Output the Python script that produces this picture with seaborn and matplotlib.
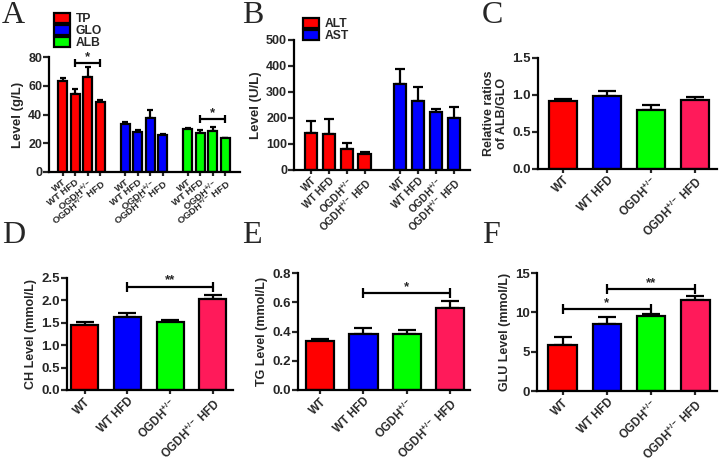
import numpy as np
import pandas as pd
import matplotlib
matplotlib.use("Agg")
import matplotlib.pyplot as plt
from matplotlib.patches import Patch
import seaborn as sns

# ---------------- data ----------------
conditions = ["WT", "WT HFD", "OGDH+/-", "OGDH+/- HFD"]
cond_labels = ["WT", "WT HFD", "OGDH$^{+/-}$", "OGDH$^{+/-}$ HFD"]

# Panel A: serum proteins (g/L)
a_groups = ["TP", "GLO", "ALB"]
a_tp = [63.2, 54.4, 66.0, 48.4]
a_tp_err = [2.0, 3.0, 7.0, 1.4]
a_glo = [33.5, 27.8, 37.3, 25.7]
a_glo_err = [1.0, 1.4, 5.5, 0.7]
a_alb = [30.1, 27.1, 28.7, 23.4]
a_alb_err = [0.5, 2.0, 2.3, 0.5]
a_ticks = [0, 20, 40, 60, 80]

# Panel B: enzymes (U/L)
b_groups = ["ALT", "AST"]
b_alt = [141, 137, 80, 63]
b_alt_err = [49, 58, 25, 7]
b_ast = [330, 267, 222, 199]
b_ast_err = [58, 51, 14, 43]
b_ticks = [0, 100, 200, 300, 400, 500]

# Panels C-F
c_vals = [0.918, 0.986, 0.79, 0.93]
c_err = [0.03, 0.06, 0.07, 0.04]
c_ticks = [0.0, 0.5, 1.0, 1.5]

d_vals = [1.46, 1.64, 1.52, 2.04]
d_err = [0.06, 0.07, 0.05, 0.09]
d_ticks = [0.0, 0.5, 1.0, 1.5, 2.0, 2.5]

e_vals = [0.334, 0.386, 0.382, 0.558]
e_err = [0.018, 0.037, 0.03, 0.052]
e_ticks = [0.0, 0.2, 0.4, 0.6, 0.8]

f_vals = [5.85, 8.55, 9.5, 11.55]
f_err = [1.0, 0.85, 0.28, 0.5]
f_ticks = [0, 5, 10, 15]

# significance brackets
sig_a = [("TP", "WT HFD", "OGDH+/- HFD", 75.5, "*"),
         ("ALB", "WT HFD", "OGDH+/- HFD", 36.8, "*")]
sig_d = [("WT HFD", "OGDH+/- HFD", 2.31, "**")]
sig_e = [("WT HFD", "OGDH+/- HFD", 0.663, "*")]
sig_f = [("WT", "OGDH+/-", 10.45, "*"),
         ("WT HFD", "OGDH+/- HFD", 13.0, "**")]

# ---------------- style ----------------
RED, BLUE, GREEN, PINK = "#ff0000", "#0000ff", "#00ff00", "#ff1a5a"
cond_colors = [RED, BLUE, GREEN, PINK]

sns.set_style("ticks")
plt.rcParams["font.family"] = ["Liberation Sans", "DejaVu Sans"]
plt.rcParams["font.weight"] = "bold"
plt.rcParams["axes.labelweight"] = "bold"
plt.rcParams["mathtext.fontset"] = "custom"
plt.rcParams["mathtext.rm"] = "Liberation Sans:bold"
plt.rcParams["mathtext.bf"] = "Liberation Sans:bold"
plt.rcParams["mathtext.it"] = "Liberation Sans:bold"
plt.rcParams["mathtext.default"] = "bf"

W, H = 720, 463
fig = plt.figure(figsize=(W / 100, H / 100), dpi=100)


def add_ax(left, right, top, bottom):
    return fig.add_axes([left / W, 1 - bottom / H, (right - left) / W, (bottom - top) / H])


def style_ax(ax, ticks, ylabel, tick_fs=9, label_fs=9):
    ax.set_ylim(ticks[0], ticks[-1])
    ax.set_yticks(ticks)
    ax.set_ylabel(ylabel, fontsize=label_fs, fontweight="bold", labelpad=3)
    ax.set_xlabel("")
    for s in ["top", "right"]:
        ax.spines[s].set_visible(False)
    for s in ["left", "bottom"]:
        ax.spines[s].set_linewidth(1.6)
        ax.spines[s].set_color("black")
    ax.tick_params(axis="y", direction="out", length=4, width=1.6, labelsize=tick_fs, pad=1)
    ax.tick_params(axis="x", direction="out", length=3, width=1.6, pad=1)
    for t in ax.get_yticklabels():
        t.set_fontweight("bold")


def bracket(ax, x1, x2, y, label, tick_h, fs=9):
    ax.plot([x1, x2], [y, y], color="black", lw=1.6, marker="|", markersize=tick_h,
            markeredgewidth=1.6, clip_on=False, zorder=5)
    ax.text((x1 + x2) / 2, y, label, ha="center", va="bottom", fontsize=fs,
            fontweight="bold", zorder=5)


def errbars(ax, xs, vals, errs, capsize):
    ax.errorbar(xs, vals, yerr=[np.zeros(len(errs)), errs], fmt="none", ecolor="black",
                elinewidth=1.6, capsize=capsize, capthick=1.6, zorder=1)


def legend(ax, colors, labels, x, y):
    ax.legend(handles=[Patch(facecolor=c, edgecolor="black", linewidth=1.6) for c in colors],
              labels=labels, loc="upper left", bbox_to_anchor=(x / W, 1 - y / H),
              bbox_transform=fig.transFigure, frameon=False,
              handlelength=1.3, handleheight=0.85, handletextpad=0.5, labelspacing=0.02,
              borderpad=0, borderaxespad=0, prop={"weight": "bold", "size": 8.7})


# ---------------- Panel A ----------------
axA = add_ax(49, 240, 57, 172)
a_data = {"TP": (a_tp, a_tp_err), "GLO": (a_glo, a_glo_err), "ALB": (a_alb, a_alb_err)}
a_order, rows = [], []
for gi, g in enumerate(a_groups):
    if gi > 0:
        a_order.append(f"gap{gi}")
    for ci, c in enumerate(conditions):
        slot = f"{g}|{c}"
        a_order.append(slot)
        rows.append({"slot": slot, "group": g, "value": a_data[g][0][ci]})
dfA = pd.DataFrame(rows)
sns.barplot(data=dfA, x="slot", y="value", hue="group", order=a_order, hue_order=a_groups,
            palette=[RED, BLUE, GREEN], saturation=1, dodge=False, width=0.72,
            edgecolor="black", linewidth=1.6, errorbar=None, legend=False, ax=axA, zorder=2)
for g in a_groups:
    xs = [a_order.index(f"{g}|{c}") for c in conditions]
    errbars(axA, xs, a_data[g][0], a_data[g][1], 2.2)
style_ax(axA, a_ticks, "Level (g/L)", tick_fs=9, label_fs=9.5)
real_slots = [s for s in a_order if not s.startswith("gap")]
axA.set_xticks([a_order.index(s) for s in real_slots])
axA.set_xticklabels([cond_labels[conditions.index(s.split("|")[1])] for s in real_slots],
                    rotation=38, ha="right", rotation_mode="anchor", fontsize=6.8,
                    fontweight="bold")
axA.set_xlim(-1.1, len(a_order) - 1 + 1.2)
for g, c1, c2, y, lab in sig_a:
    bracket(axA, a_order.index(f"{g}|{c1}"), a_order.index(f"{g}|{c2}"), y, lab, 6, fs=9.5)
legend(axA, [RED, BLUE, GREEN], a_groups, 54, 13)

# ---------------- Panel B ----------------
axB = add_ax(294, 470, 40, 170)
b_data = {"ALT": (b_alt, b_alt_err), "AST": (b_ast, b_ast_err)}
b_order, rows = [], []
for gi, g in enumerate(b_groups):
    if gi > 0:
        b_order.append(f"gap{gi}")
    for ci, c in enumerate(conditions):
        slot = f"{g}|{c}"
        b_order.append(slot)
        rows.append({"slot": slot, "group": g, "value": b_data[g][0][ci]})
dfB = pd.DataFrame(rows)
sns.barplot(data=dfB, x="slot", y="value", hue="group", order=b_order, hue_order=b_groups,
            palette=[RED, BLUE], saturation=1, dodge=False, width=0.69, edgecolor="black",
            linewidth=1.6, errorbar=None, legend=False, ax=axB, zorder=2)
for g in b_groups:
    xs = [b_order.index(f"{g}|{c}") for c in conditions]
    errbars(axB, xs, b_data[g][0], b_data[g][1], 3.6)
style_ax(axB, b_ticks, "Level (U/L)", tick_fs=9, label_fs=9.5)
real_slots = [s for s in b_order if not s.startswith("gap")]
axB.set_xticks([b_order.index(s) for s in real_slots])
axB.set_xticklabels([cond_labels[conditions.index(s.split("|")[1])] for s in real_slots],
                    rotation=45, ha="right", rotation_mode="anchor", fontsize=7.3,
                    fontweight="bold")
axB.set_xlim(-0.95, len(b_order) - 1 + 0.9)
legend(axB, [RED, BLUE], b_groups, 303, 18)


# ---------------- Panels C-F ----------------
def simple_panel(rect, vals, errs, ticks, ylabel, xlim, width, sigs, tick_h=7):
    ax = add_ax(*rect)
    df = pd.DataFrame({"cond": conditions, "value": vals})
    sns.barplot(data=df, x="cond", y="value", hue="cond", order=conditions,
                hue_order=conditions, palette=cond_colors, saturation=1, width=width,
                edgecolor="black", linewidth=1.6, errorbar=None, legend=False, ax=ax,
                zorder=2)
    errbars(ax, range(len(conditions)), vals, errs, 6.5)
    style_ax(ax, ticks, ylabel, tick_fs=9.5, label_fs=9)
    ax.set_xticks(range(len(conditions)))
    ax.set_xticklabels(cond_labels, rotation=45, ha="right", rotation_mode="anchor",
                       fontsize=8.3, fontweight="bold")
    ax.set_xlim(*xlim)
    for c1, c2, y, lab in sigs:
        bracket(ax, conditions.index(c1), conditions.index(c2), y, lab, tick_h, fs=9.5)
    return ax


axC = simple_panel((538, 717, 58, 168.5), c_vals, c_err, c_ticks,
                   "Relative ratios\nof ALB/GLO", (-0.57, 3.5), 0.65, [])
axD = simple_panel((67, 233, 278, 390), d_vals, d_err, d_ticks,
                   "CH Level (mmol/L)", (-0.41, 3.47), 0.63, sig_d)
axE = simple_panel((298, 470, 273, 390), e_vals, e_err, e_ticks,
                   "TG Level (mmol/L)", (-0.51, 3.46), 0.65, sig_e)
axF = simple_panel((537, 717, 273, 391), f_vals, f_err, f_ticks,
                   "GLU Level (mmol/L)", (-0.58, 3.49), 0.65, sig_f)

# ---------------- panel letters ----------------
letters = ["A", "B", "C", "D", "E", "F"]
letter_pos = [(2, 1), (242, 1), (482, 1), (2, 221), (242, 221), (482, 221)]
for lab, (lx, ly) in zip(letters, letter_pos):
    fig.text(lx / W, 1 - ly / H, lab, ha="left", va="top", fontsize=23,
             family=["Liberation Serif", "DejaVu Serif"], fontweight="normal")

fig.savefig("out.png", dpi=100)
